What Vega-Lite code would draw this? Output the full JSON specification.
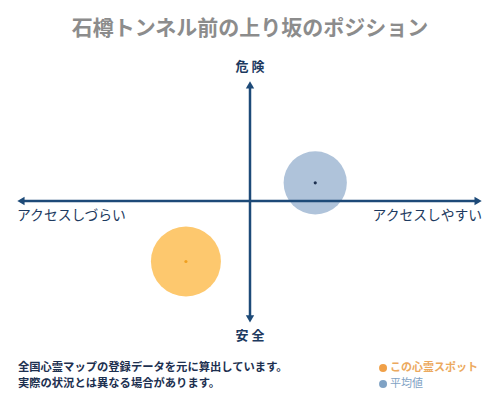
{
  "$schema": "https://vega.github.io/schema/vega-lite/v6.json",
  "width": 500,
  "height": 400,
  "autosize": "none",
  "padding": 0,
  "background": "white",
  "data": {"values": [{}]},
  "config": {
    "view": {"stroke": null},
    "axis": {"disable": true},
    "text": {"font": "Noto Sans CJK JP"}
  },
  "datasets": {
    "spots": [
      {"name": "この心霊スポット", "access": -0.275, "danger": -0.5},
      {"name": "平均値", "access": 0.28, "danger": 0.15}
    ]
  },
  "layer": [
    {
      "data": {"name": "spots"},
      "mark": {"type": "point", "filled": true, "opacity": 1, "strokeWidth": 0},
      "encoding": {
        "x": {"field": "access", "type": "quantitative", "scale": {"domain": [-1, 1], "range": [17, 483]}},
        "y": {"field": "danger", "type": "quantitative", "scale": {"domain": [-1, 1], "range": [322, 80]}},
        "color": {"field": "name", "type": "nominal", "legend": null,
          "scale": {"domain": ["この心霊スポット", "平均値"], "range": ["#fdc86e", "#afc3da"]}},
        "size": {"condition": {"test": "datum.name == '平均値'", "value": 4000}, "value": 4900}
      }
    },
    {
      "mark": {"type": "rule", "color": "#1d4a78", "strokeWidth": 2.5},
      "encoding": {
        "x": {"datum": -0.985, "type": "quantitative"},
        "x2": {"datum": 0.98},
        "y": {"datum": 0, "type": "quantitative"}
      }
    },
    {
      "mark": {"type": "rule", "color": "#1d4a78", "strokeWidth": 2.5},
      "encoding": {
        "x": {"datum": 0, "type": "quantitative"},
        "y": {"datum": 0.96, "type": "quantitative"},
        "y2": {"datum": -0.975}
      }
    },
    {
      "mark": {"type": "point", "shape": "triangle-left", "filled": true, "color": "#1d4a78", "size": 70, "opacity": 1},
      "encoding": {"x": {"datum": -0.983, "type": "quantitative"}, "y": {"datum": 0, "type": "quantitative"}}
    },
    {
      "mark": {"type": "point", "shape": "triangle-right", "filled": true, "color": "#1d4a78", "size": 70, "opacity": 1},
      "encoding": {"x": {"datum": 0.979, "type": "quantitative"}, "y": {"datum": 0, "type": "quantitative"}}
    },
    {
      "mark": {"type": "point", "shape": "triangle-up", "filled": true, "color": "#1d4a78", "size": 70, "opacity": 1},
      "encoding": {"x": {"datum": 0, "type": "quantitative"}, "y": {"datum": 0.96, "type": "quantitative"}}
    },
    {
      "mark": {"type": "point", "shape": "triangle-down", "filled": true, "color": "#1d4a78", "size": 70, "opacity": 1},
      "encoding": {"x": {"datum": 0, "type": "quantitative"}, "y": {"datum": -0.975, "type": "quantitative"}}
    },
    {
      "data": {"name": "spots"},
      "mark": {"type": "point", "filled": true, "opacity": 1, "size": 10, "strokeWidth": 0},
      "encoding": {
        "x": {"field": "access", "type": "quantitative"},
        "y": {"field": "danger", "type": "quantitative"},
        "color": {"condition": {"test": "datum.name == '平均値'", "value": "#1d3050"}, "value": "#f0a020"}
      }
    },
    {
      "mark": {"type": "text", "fontSize": 21, "fontWeight": "bold", "color": "#8c8c8c", "align": "center", "baseline": "middle"},
      "encoding": {"x": {"datum": 0, "type": "quantitative"}, "y": {"datum": 1.42, "type": "quantitative"}, "text": {"value": "石樽トンネル前の上り坂のポジション"}}
    },
    {
      "mark": {"type": "text", "fontSize": 13, "fontWeight": "bold", "color": "#1d3a60", "align": "center", "baseline": "middle"},
      "encoding": {"x": {"datum": 0, "type": "quantitative"}, "y": {"datum": 1.105, "type": "quantitative"}, "text": {"value": "危 険"}}
    },
    {
      "mark": {"type": "text", "fontSize": 13, "fontWeight": "bold", "color": "#1d3a60", "align": "center", "baseline": "middle"},
      "encoding": {"x": {"datum": 0, "type": "quantitative"}, "y": {"datum": -1.116, "type": "quantitative"}, "text": {"value": "安 全"}}
    },
    {
      "mark": {"type": "text", "fontSize": 13.8, "color": "#1d3a60", "align": "left", "baseline": "middle"},
      "encoding": {"x": {"datum": -1, "type": "quantitative"}, "y": {"datum": -0.124, "type": "quantitative"}, "text": {"value": "アクセスしづらい"}}
    },
    {
      "mark": {"type": "text", "fontSize": 13.8, "color": "#1d3a60", "align": "right", "baseline": "middle"},
      "encoding": {"x": {"datum": 0.996, "type": "quantitative"}, "y": {"datum": -0.124, "type": "quantitative"}, "text": {"value": "アクセスしやすい"}}
    },
    {
      "mark": {"type": "text", "fontSize": 11.3, "fontWeight": "bold", "color": "#1d3050", "align": "left", "baseline": "middle"},
      "encoding": {"x": {"datum": -0.996, "type": "quantitative"}, "y": {"datum": -1.38, "type": "quantitative"}, "text": {"value": "全国心霊マップの登録データを元に算出しています。"}}
    },
    {
      "mark": {"type": "text", "fontSize": 11.3, "fontWeight": "bold", "color": "#1d3050", "align": "left", "baseline": "middle"},
      "encoding": {"x": {"datum": -0.996, "type": "quantitative"}, "y": {"datum": -1.512, "type": "quantitative"}, "text": {"value": "実際の状況とは異なる場合があります。"}}
    },
    {
      "mark": {"type": "point", "filled": true, "opacity": 1, "size": 64, "color": "#f0a048"},
      "encoding": {"x": {"datum": 0.571, "type": "quantitative"}, "y": {"datum": -1.38, "type": "quantitative"}}
    },
    {
      "mark": {"type": "point", "filled": true, "opacity": 1, "size": 64, "color": "#7fa2c4"},
      "encoding": {"x": {"datum": 0.571, "type": "quantitative"}, "y": {"datum": -1.512, "type": "quantitative"}}
    },
    {
      "mark": {"type": "text", "fontSize": 11, "fontWeight": "bold", "color": "#eca95e", "align": "left", "baseline": "middle"},
      "encoding": {"x": {"datum": 0.601, "type": "quantitative"}, "y": {"datum": -1.38, "type": "quantitative"}, "text": {"value": "この心霊スポット"}}
    },
    {
      "mark": {"type": "text", "fontSize": 11, "color": "#7fa2c4", "align": "left", "baseline": "middle"},
      "encoding": {"x": {"datum": 0.601, "type": "quantitative"}, "y": {"datum": -1.512, "type": "quantitative"}, "text": {"value": "平均値"}}
    }
  ]
}
